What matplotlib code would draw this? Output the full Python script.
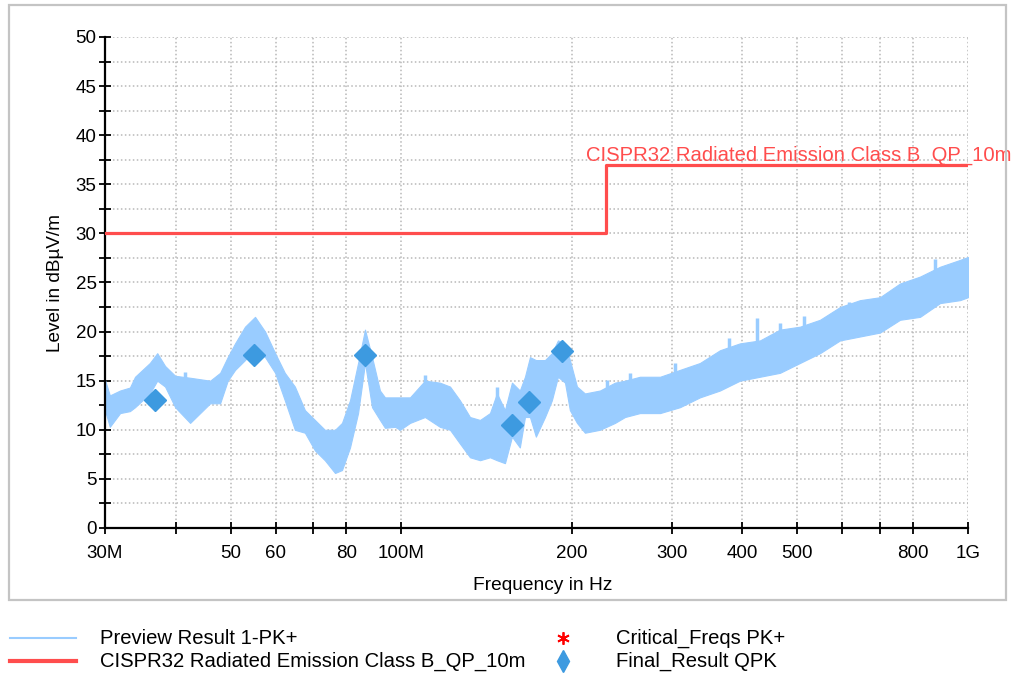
import matplotlib
matplotlib.use("Agg")
import matplotlib.pyplot as plt
from matplotlib.lines import Line2D
from matplotlib.patches import Rectangle
from matplotlib.ticker import FixedLocator, FixedFormatter, MultipleLocator, NullLocator

plt.rcParams['font.family'] = ['Liberation Sans', 'DejaVu Sans']

# --- data (frequency in MHz, level in dBuV/m) -------------------------------
# Preview PK+ trace, read as upper / lower envelope of the noisy sweep
freq_mhz = [30.0, 30.6, 31.9, 33.2, 33.9, 36.0, 37.1, 38.3, 39.9, 42.4,
            46.0, 47.9, 49.4, 50.9, 53.0, 55.2, 57.5, 59.9, 62.3, 64.9,
            67.6, 70.4, 73.3, 76.4, 78.6, 81.2, 83.9, 86.3, 88.8, 91.7,
            93.6, 97.5, 99.5, 103.6, 110.1, 117.0, 121.9, 126.9, 132.2, 137.7,
            143.4, 147.5, 152.4, 156.8, 161.9, 165.3, 168.7, 172.8, 179.3, 184.4,
            189.0, 194.5, 198.4, 204.2, 210.9, 224.2, 238.3, 248.2, 263.7, 286.2,
            310.3, 336.5, 365.1, 395.9, 429.5, 465.9, 505.2, 548.1, 594.6, 644.8,
            699.5, 758.8, 823.0, 892.6, 968.2, 1000.0]
pk_upper = [15.1, 13.5, 14.0, 14.3, 15.4, 16.8, 17.8, 16.5, 15.5, 15.3,
            15.0, 15.8, 17.4, 18.8, 20.5, 21.5, 20.0, 17.8, 15.8, 14.4,
            12.0, 11.0, 10.0, 10.0, 10.7, 13.0, 16.8, 20.2, 17.4, 14.0,
            13.3, 13.3, 13.3, 13.3, 15.0, 14.8, 14.4, 13.0, 11.3, 11.0,
            11.7, 13.7, 12.0, 14.8, 14.0, 15.4, 17.4, 17.1, 17.1, 17.8,
            19.1, 18.8, 17.1, 14.4, 13.7, 14.0, 14.8, 15.0, 15.4, 15.4,
            16.1, 16.8, 18.1, 18.8, 19.1, 20.2, 20.5, 21.2, 22.5, 23.2,
            23.5, 24.9, 25.6, 26.6, 27.3, 27.6]
pk_lower = [12.0, 10.3, 11.7, 11.9, 12.3, 13.7, 15.0, 14.4, 12.3, 10.7,
            12.7, 12.7, 15.0, 16.1, 17.1, 18.4, 17.4, 15.8, 13.0, 10.0,
            9.7, 7.9, 6.9, 5.6, 5.9, 8.2, 11.7, 16.8, 12.3, 11.0,
            10.2, 10.3, 10.0, 10.7, 11.3, 10.3, 10.0, 8.6, 7.2, 6.9,
            7.2, 6.9, 6.6, 9.3, 8.2, 11.3, 11.3, 9.3, 11.3, 13.0,
            15.4, 14.8, 12.0, 10.7, 9.7, 10.0, 10.7, 11.3, 11.7, 11.7,
            12.3, 13.3, 14.0, 15.0, 15.4, 15.8, 16.8, 17.8, 19.1, 19.5,
            19.9, 21.2, 21.5, 22.9, 23.2, 23.5]

# isolated peaks standing out of the trace
spike_freq = [41.6, 110.0, 147.5, 231.0, 253.8, 304.0, 378.0, 424.0, 466.0, 513.0, 616.0, 874.0]
spike_base = [13.0, 12.5, 10.0, 13.0, 13.5, 14.0, 16.0, 17.0, 18.0, 18.5, 20.0, 24.0]
spike_top = [15.9, 15.6, 14.4, 15.1, 15.8, 16.8, 19.3, 21.4, 20.9, 21.6, 23.0, 27.4]

limit_freq = [30, 230, 230, 1000]
limit_level = [30, 30, 37, 37]

qpk_freq = [36.8, 55.0, 86.3, 156.8, 168.0, 192.1]
qpk_level = [13.0, 17.6, 17.6, 10.5, 12.8, 18.0]

xtick_pos = [30, 40, 50, 60, 70, 80, 100, 200, 300, 400, 500, 600, 700, 800, 1000]
xtick_lab = ['30M', '', '50', '60', '', '80', '100M', '200', '300', '400', '500',
             '', '', '800', '1G']

blue_trace = '#99CCFF'
red_limit = '#FF4D4D'
blue_qpk = '#3D9AE0'

# --- figure -----------------------------------------------------------------
fig = plt.figure(figsize=(10.19, 6.75), dpi=100)
fig.patches.append(Rectangle((0.0088, 0.1111), 0.9784, 0.8815, transform=fig.transFigure,
                             fill=False, edgecolor='#c4c4c4', lw=1.6))

ax = fig.add_axes([0.1030, 0.2178, 0.8469, 0.7274])
ax.fill_between(freq_mhz, pk_lower, pk_upper, color=blue_trace, lw=0.8, zorder=2)
ax.vlines(spike_freq, spike_base, spike_top, color=blue_trace, lw=2.5, zorder=2)
ax.plot(limit_freq, limit_level, color=red_limit, lw=2.3, zorder=3)
ax.plot(qpk_freq, qpk_level, 'D', color=blue_qpk, ms=11, mec=blue_qpk, zorder=4)
ax.text(212, 37.4, 'CISPR32 Radiated Emission Class B_QP_10m', color=red_limit,
        fontsize=14.6, ha='left', va='baseline', clip_on=False)

ax.set_xscale('log')
ax.set_xlim(30, 1000)
ax.set_ylim(0, 50)
ax.xaxis.set_major_locator(FixedLocator(xtick_pos))
ax.xaxis.set_major_formatter(FixedFormatter(xtick_lab))
ax.xaxis.set_minor_locator(NullLocator())
ax.yaxis.set_major_locator(MultipleLocator(5))
ax.yaxis.set_minor_locator(MultipleLocator(2.5))

grid_kw = dict(color='#b8b8b8', linestyle=(0, (1, 1.6)), lw=1.1)
ax.grid(True, which='major', axis='both', **grid_kw)
ax.grid(True, which='minor', axis='y', **grid_kw)
ax.set_axisbelow(True)

for s in ('top', 'right'):
    ax.spines[s].set_visible(False)
for s in ('left', 'bottom'):
    ax.spines[s].set_linewidth(1.6)
ax.tick_params(which='both', direction='inout', length=8, width=1.3, labelsize=13.5)
ax.tick_params(axis='x', pad=8)
ax.tick_params(axis='y', pad=2)

fig.text(0.0540, 0.581, 'Level in dB\u00b5V/m', rotation=90, fontsize=13.7,
         ha='center', va='center')
fig.text(0.5330, 0.1320, 'Frequency in Hz', fontsize=13.8, ha='center', va='center')

# --- legend -----------------------------------------------------------------
row1, row2 = 1 - 638 / 675, 1 - 661 / 675
fig.add_artist(Line2D([0.010, 0.075], [row1, row1], color=blue_trace, lw=1.5))
fig.add_artist(Line2D([0.010, 0.075], [row2, row2], color=red_limit, lw=3))
fig.add_artist(Line2D([0.5525], [row1], marker=(6, 2, 0), color='red', ms=9, mew=1.3))
fig.add_artist(Line2D([0.5525], [row2], marker='d', color=blue_qpk, ms=11))
leg_kw = dict(fontsize=14.6, ha='left', va='center')
fig.text(0.098, row1, 'Preview Result 1-PK+', **leg_kw)
fig.text(0.098, row2, 'CISPR32 Radiated Emission Class B_QP_10m', **leg_kw)
fig.text(0.605, row1, 'Critical_Freqs PK+', **leg_kw)
fig.text(0.605, row2, 'Final_Result QPK', **leg_kw)

fig.savefig('out.png', dpi=100)
